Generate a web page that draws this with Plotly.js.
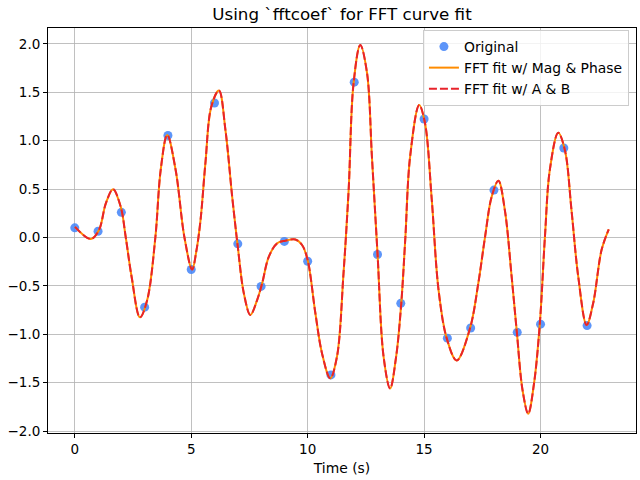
<!DOCTYPE html>
<html>
<head>
<meta charset="utf-8">
<script src="https://cdn.plot.ly/plotly-3.0.1.min.js"></script>
<style>
  html, body { margin: 0; padding: 0; background: #fff; }
  #chart { width: 640px; height: 480px; }
</style>
</head>
<body>
<div id="chart"></div>
<script>
// Sampled signal
const sampleTime = [0, 1, 2, 3, 4, 5, 6, 7, 8, 9, 10, 11, 12, 13, 14, 15, 16, 17, 18, 19, 20, 21, 22];
const sampleValue = [0.10, 0.065, 0.26, -0.72, 1.055, -0.33, 1.39, -0.065, -0.505, -0.04, -0.245, -1.42, 1.605,
  -0.175, -0.68, 1.225, -1.04, -0.935, 0.49, -0.98, -0.895, 0.925, -0.91];

// Reconstructed FFT curve (same for both fits)
const fitTime = [0.01, 0.69, 1.04, 1.33, 1.64, 1.97, 2.19, 2.44, 2.80, 3.11, 3.46, 3.69, 3.97, 4.33, 4.71, 5.04,
  5.22, 5.40, 5.61, 5.86, 6.19, 6.47, 6.76, 7.00, 7.26, 7.54, 7.83, 8.05, 8.33, 8.69, 9.04, 9.47, 9.76, 10.0, 10.33,
  10.62, 10.97, 11.26, 11.54, 11.76, 11.97, 12.26, 12.55, 12.76, 13.0, 13.26, 13.54, 13.80, 14.02, 14.19, 14.40,
  14.79, 15.04, 15.33, 15.62, 15.97, 16.40, 16.97, 17.33, 17.62, 17.90, 18.19, 18.47, 18.76, 18.98, 19.23, 19.47,
  19.72, 19.97, 20.19, 20.40, 20.76, 21.05, 21.33, 21.62, 21.98, 22.26, 22.62, 22.93];
const fitValue = [0.11, -0.015, 0.078, 0.35, 0.50, 0.32, 0.0, -0.405, -0.825, -0.646, 0.0, 0.70, 1.06, 0.70, 0.0, -0.33,
  -0.14, 0.18, 0.77, 1.35, 1.52, 1.11, 0.42, -0.095, -0.577, -0.80, -0.646, -0.47, -0.20, -0.06, -0.033, -0.02, -0.077, -0.233, -0.78,
  -1.20, -1.455, -1.23, -0.37, 0.49, 1.59, 1.99, 1.70, 0.835, -0.164, -1.23, -1.56, -1.23, -0.68, -0.026, 0.835,
  1.37, 1.18, 0.39, -0.54, -1.04, -1.27, -0.94, -0.47, 0.01, 0.42, 0.587, 0.28, -0.405, -0.97, -1.58, -1.82,
  -1.51, -0.89, 0.01, 0.70, 1.083, 0.90, 0.284, -0.405, -0.904, -0.68, -0.13, 0.085];

const yTicks = [-2.0, -1.5, -1.0, -0.5, 0.0, 0.5, 1.0, 1.5, 2.0];
const xTicks = [0, 5, 10, 15, 20];

const font = "DejaVu Sans, sans-serif";

const traces = [
  {
    x: sampleTime, y: sampleValue, type: "scatter", mode: "markers", name: "Original",
    marker: { color: "rgba(65,130,248,0.85)", size: 9 }
  },
  {
    x: fitTime, y: fitValue, type: "scatter", mode: "lines", name: "FFT fit w/ Mag & Phase",
    line: { color: "#ff8c00", width: 2, shape: "spline", smoothing: 1 }
  },
  {
    x: fitTime, y: fitValue, type: "scatter", mode: "lines", name: "FFT fit w/ A & B",
    line: { color: "#e8232b", width: 2, dash: "8px,3px", shape: "spline", smoothing: 1 }
  }
];

const axisCommon = {
  showgrid: true, gridcolor: "#b0b0b0", gridwidth: 0.8,
  zeroline: false, showline: true, linecolor: "#000", linewidth: 1, mirror: true,
  ticks: "outside", ticklen: 4, tickwidth: 1, tickcolor: "#000",
  tickfont: { family: font, size: 13.5, color: "#000" }
};

const layout = {
  width: 640, height: 480,
  margin: { l: 48, r: 4, t: 28, b: 47 },
  paper_bgcolor: "#fff", plot_bgcolor: "#fff",
  font: { family: font, color: "#000" },
  title: { text: "Using `fftcoef` for FFT curve fit", font: { family: font, size: 16.7, color: "#000" },
           x: 0.5, xref: "paper", xanchor: "center", y: 0.971, yanchor: "middle" },
  xaxis: Object.assign({}, axisCommon, {
    range: [-1.15, 24.1], tickvals: xTicks, ticktext: xTicks.map(String),
    title: { text: "Time (s)", font: { family: font, size: 13.9, color: "#000" }, standoff: 7 }
  }),
  yaxis: Object.assign({}, axisCommon, {
    range: [-2.02, 2.165], tickvals: yTicks, ticktext: yTicks.map(v => v.toFixed(1).replace("-", "\u2212"))
  }),
  showlegend: true,
  legend: {
    x: 0.988, y: 0.995, xanchor: "right", yanchor: "top",
    bgcolor: "rgba(255,255,255,0.8)", bordercolor: "#cccccc", borderwidth: 1,
    font: { family: font, size: 13.9, color: "#000" },
    tracegroupgap: 0, itemwidth: 30
  }
};

Plotly.newPlot("chart", traces, layout, { staticPlot: true, displayModeBar: false });
</script>
</body>
</html>
